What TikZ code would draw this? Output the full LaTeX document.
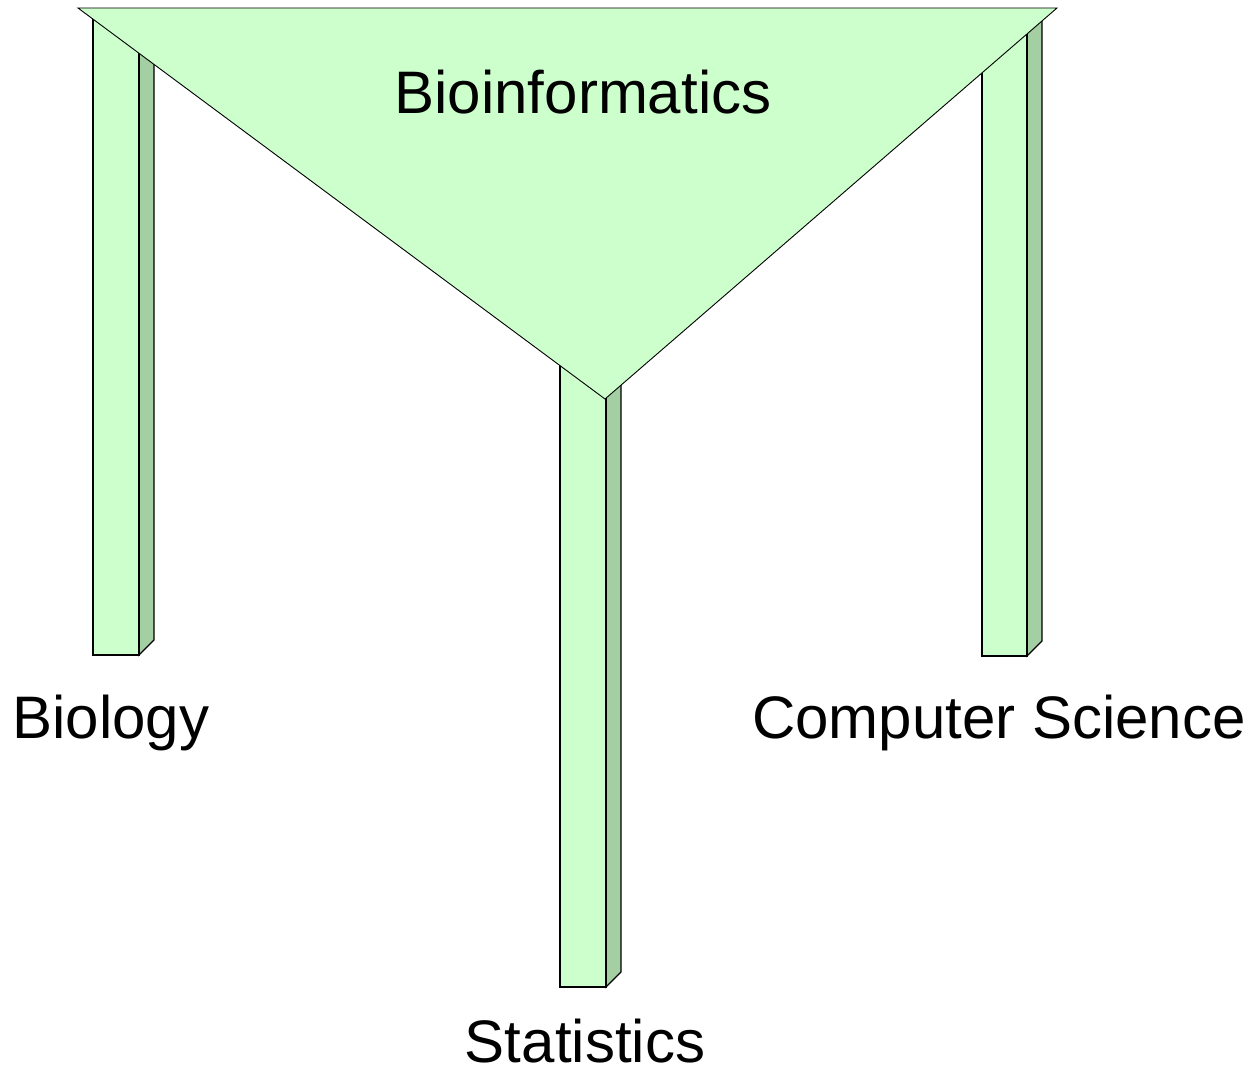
\documentclass[tikz,border=0pt]{standalone}
\usepackage{fontspec}
\setmainfont{Liberation Sans}
\definecolor{frontgreen}{RGB}{204,255,204}
\definecolor{sidegreen}{RGB}{163,207,163}
\tikzset{
  frontface/.style={fill=frontgreen, draw=black, line width=1.3pt, line join=miter},
  sideface/.style={fill=sidegreen, draw=black, line width=1.3pt, line join=miter},
  topface/.style={fill=frontgreen, draw=black, line width=0.9pt},
  label/.style={font=\fontsize{60}{70}\selectfont, anchor=base, inner sep=0pt}
}
\begin{document}
\begin{tikzpicture}[x=1pt,y=-1pt]
\useasboundingbox (0,0) rectangle (1253,1073);
% left pillar
\draw[sideface] (139,655) -- (154,640) -- (154,12) -- (139,27) -- cycle;
\draw[frontface] (93,12) rectangle (139,655);
% right pillar
\draw[sideface] (1027,656) -- (1042,641) -- (1042,12) -- (1027,27) -- cycle;
\draw[frontface] (982,12) rectangle (1027,656);
% middle pillar
\draw[sideface] (606,987) -- (621,972) -- (621,300) -- (606,315) -- cycle;
\draw[frontface] (560,315) rectangle (606,987);
% triangle top
\draw[topface] (78,8) -- (1057,8) -- (605,399) -- cycle;
% labels
\node[label] (bioinf) at (583,113) {Bioinformatics};
\node[label] (biol) at (111,738) {Biology};
\node[label] (cs) at (999,738) {Computer Science};
\node[label] (stat) at (585,1062) {Statistics};
\end{tikzpicture}
\end{document}
